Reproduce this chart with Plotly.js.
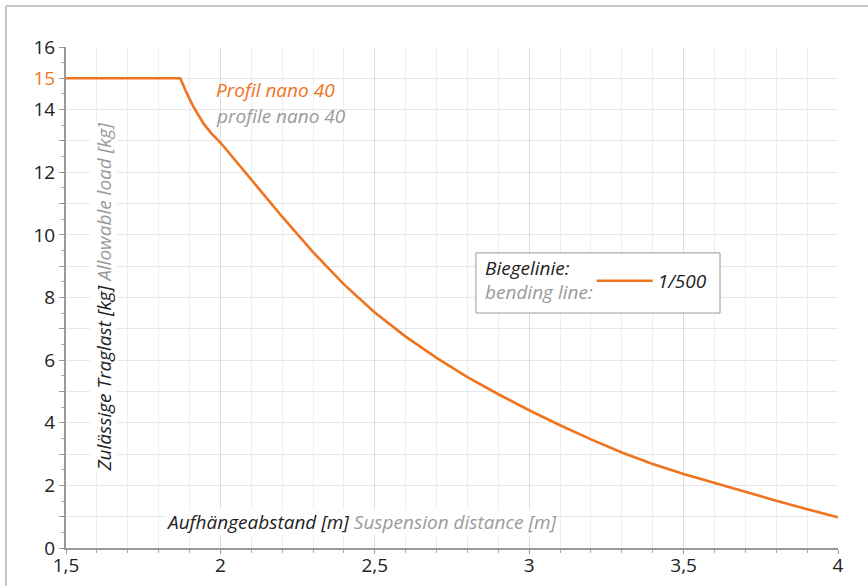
<!DOCTYPE html>
<html>
<head>
<meta charset="utf-8">
<script src="https://cdn.plot.ly/plotly-3.0.1.min.js"></script>
<style>html,body{margin:0;padding:0;background:#fff;}#chart{width:868px;height:586px;}</style>
</head>
<body>
<div id="chart"></div>
<script>
// Suspension distance [m]
const distance = [1.5, 1.87, 1.89, 1.912, 1.945, 1.97, 2.0, 2.1, 2.2, 2.3, 2.4, 2.5, 2.6, 2.7, 2.8, 2.9, 3.0, 3.1, 3.2, 3.3, 3.4, 3.5, 3.6, 3.7, 3.8, 3.9, 4.0];
// Allowable load [kg], bending line 1/500
const load = [15, 15, 14.55, 14.1, 13.56, 13.25, 12.95, 11.75, 10.58, 9.45, 8.42, 7.52, 6.75, 6.07, 5.46, 4.91, 4.4, 3.92, 3.47, 3.05, 2.68, 2.36, 2.07, 1.79, 1.51, 1.24, 0.98];
const seriesName = "1/500";
const xTicks = [1.5, 2, 2.5, 3, 3.5, 4];
const yTicks = [0,1,2,3,4,5,6,7,8,9,10,11,12,13,14,15,16];
const yTickText = ["0","","2","","4","","6","","8","","10","","12","","14","<span style='color:#f0731e'>15</span>","16"];

const ORANGE = "#f0731e";
const GRAY = "#9a9a9a";
const FONT = "Open Sans, sans-serif";

const trace = {
  x: distance, y: load, type: "scatter", mode: "lines", name: seriesName,
  line: {color: ORANGE, width: 2.6}
};

const layout = {
  width: 868, height: 586,
  margin: {l: 66, r: 30, t: 47, b: 38},
  paper_bgcolor: "#fff", plot_bgcolor: "#fff",
  separators: ",.",
  font: {family: FONT, size: 19, color: "#222"},
  showlegend: true,
  legend: {
    x: 0.681, y: 0.533, xanchor: "left", yanchor: "middle",
    bgcolor: "rgba(0,0,0,0)", borderwidth: 0,
    font: {family: FONT, size: 19, color: "#222", style: "italic"},
    itemwidth: 56
  },
  xaxis: {
    range: [1.5, 4], tickvals: xTicks, ticks: "outside", ticklen: 4, tickcolor: "#999", tickwidth: 1,
    ticklabelstandoff: -5,
    showline: true, linecolor: "#999", linewidth: 2, zeroline: false,
    showgrid: true, gridcolor: "#dcdcdc", gridwidth: 1,
    tickfont: {family: FONT, size: 19, color: "#222"},
    minor: {dtick: 0.1, tick0: 1.5, ticks: "outside", ticklen: 3, tickcolor: "#aaa", showgrid: true, gridcolor: "#eeeeee", gridwidth: 1}
  },
  yaxis: {
    range: [0, 16], tickvals: yTicks, ticktext: yTickText, ticks: "outside", ticklen: 5, tickcolor: "#999",
    showline: true, linecolor: "#999", linewidth: 2, zeroline: false,
    showgrid: true, gridcolor: "#e6e6e6", gridwidth: 1,
    tickfont: {family: FONT, size: 19, color: "#222"},
    minor: {dtick: 0.5, ticks: "outside", ticklen: 3, tickcolor: "#aaa", showgrid: false}
  },
  shapes: [
    {type: "line", xref: "paper", yref: "paper", x0: -0.0777, x1: 1.05, y0: 1.0818, y1: 1.0818, line: {color: "#c8c8c8", width: 2}},
    {type: "line", xref: "paper", yref: "paper", x0: -0.0777, x1: -0.0777, y0: 1.0818, y1: -0.1, line: {color: "#c8c8c8", width: 2}},
    {type: "rect", xref: "paper", yref: "paper", x0: 0.531, x1: 0.8472, y0: 0.469, y1: 0.589, fillcolor: "#fff", line: {color: "#999", width: 1}, layer: "above"}
  ],
  annotations: [
    {xref: "paper", yref: "paper", x: 0.192, y: 0.915, xanchor: "left", yanchor: "middle", showarrow: false,
     text: "<i>Profil nano 40</i>", font: {family: FONT, size: 19, color: ORANGE}},
    {xref: "paper", yref: "paper", x: 0.192, y: 0.862, xanchor: "left", yanchor: "middle", showarrow: false,
     text: "<i>profile nano 40</i>", font: {family: FONT, size: 19, color: GRAY}},
    {xref: "paper", yref: "paper", x: 0.048, y: 0.5, xanchor: "center", yanchor: "middle", showarrow: false, textangle: -90,
     bgcolor: "#fff", borderpad: 0,
     text: "<i>Zulässige Traglast [kg]</i> <i><span style='color:#9a9a9a'>Allowable load [kg]</span></i>", font: {family: FONT, size: 19, color: "#222"}},
    {xref: "paper", yref: "paper", x: 0.383, y: 0.052, xanchor: "center", yanchor: "middle", showarrow: false,
     bgcolor: "#fff", borderpad: 0,
     text: "<i>Aufhängeabstand [m]</i> <i><span style='color:#9a9a9a'>Suspension distance [m]</span></i>", font: {family: FONT, size: 19, color: "#222"}},
    {xref: "paper", yref: "paper", x: 0.54, y: 0.558, xanchor: "left", yanchor: "middle", showarrow: false,
     text: "<i>Biegelinie:</i>", font: {family: FONT, size: 19, color: "#222"}},
    {xref: "paper", yref: "paper", x: 0.54, y: 0.51, xanchor: "left", yanchor: "middle", showarrow: false,
     text: "<i>bending line:</i>", font: {family: FONT, size: 19, color: GRAY}}
  ]
};

Plotly.newPlot("chart", [trace], layout, {displayModeBar: false, staticPlot: true});
</script>
</body>
</html>
